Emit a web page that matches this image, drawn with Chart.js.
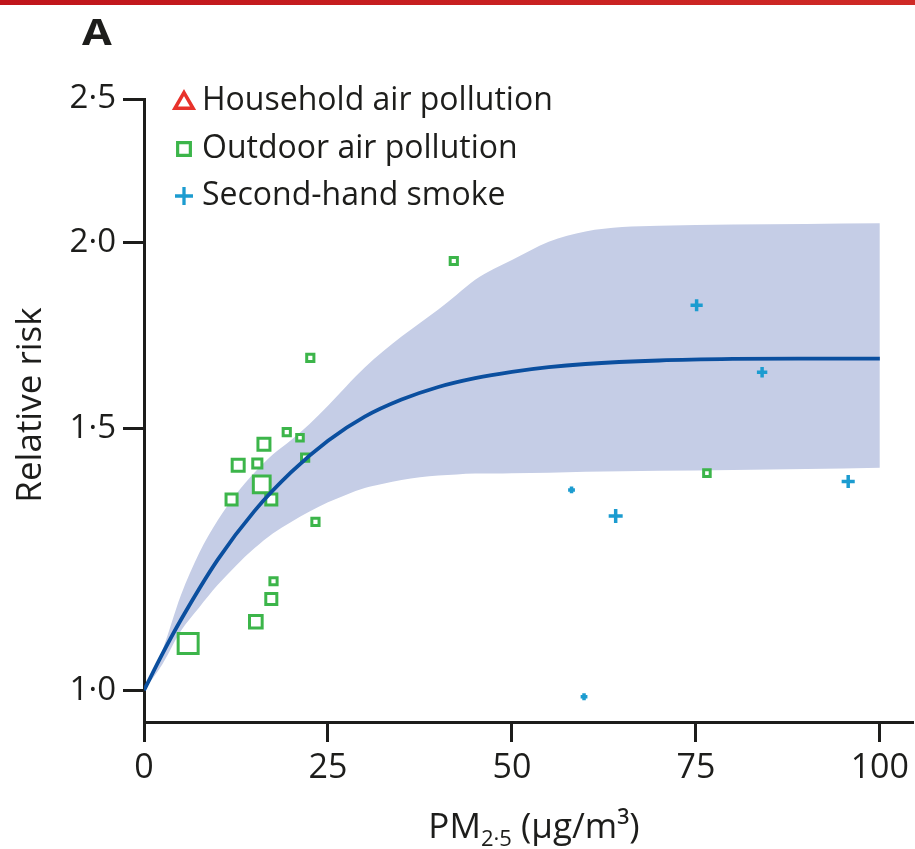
<!DOCTYPE html>
<html>
<head>
<meta charset="utf-8">
<script src="https://cdn.jsdelivr.net/npm/chart.js@4/dist/chart.umd.min.js"></script>
<style>
  html, body { margin: 0; padding: 0; background: #ffffff; }
  #wrap { position: relative; width: 915px; height: 849px; }
</style>
</head>
<body>
<div id="wrap"><canvas id="chart"></canvas></div>
<script>
// Axis ticks
const xTicks = [0, 25, 50, 75, 100];
const yTicks = [1.0, 1.5, 2.0, 2.5];

// Series names
const seriesNames = ['Household air pollution', 'Outdoor air pollution', 'Second-hand smoke'];

// Integrated exposure-response curve (PM2.5 in µg/m³)
const curvePM = [0, 2.5, 5, 10, 15, 20, 25, 30, 35, 40, 45, 50, 55, 60, 70, 80, 90, 100];
const curveRR = [1.000, 1.058, 1.115, 1.224, 1.320, 1.402, 1.472, 1.528, 1.569, 1.600, 1.622, 1.638, 1.650, 1.658, 1.667, 1.671, 1.672, 1.672];

// Uncertainty band around the curve
const bandPM    = [0, 2.5, 5, 7.5, 10, 12.5, 15, 17.5, 20, 22.5, 25, 27.5, 30, 32.5, 35, 37.5, 40, 42.5, 45, 47.5, 50, 55, 60, 65, 70, 80, 90, 100];
const bandUpper = [1.000, 1.064, 1.158, 1.237, 1.301, 1.355, 1.401, 1.441, 1.474, 1.511, 1.554, 1.602, 1.649, 1.691, 1.730, 1.767, 1.804, 1.846, 1.889, 1.921, 1.948, 2.004, 2.036, 2.050, 2.054, 2.058, 2.060, 2.062];
const bandLower = [1.000, 1.041, 1.096, 1.137, 1.177, 1.213, 1.246, 1.275, 1.298, 1.319, 1.338, 1.354, 1.368, 1.377, 1.385, 1.391, 1.395, 1.397, 1.399, 1.399, 1.400, 1.401, 1.403, 1.404, 1.405, 1.407, 1.409, 1.412];

// Study estimates
const householdPM = [];
const householdRR = [];

const outdoorPM     = [6.0, 15.2, 17.3, 17.6, 23.3, 11.9, 17.3, 16.0, 12.8, 15.4, 16.3, 19.4, 21.2, 21.9, 22.6, 42.1, 76.5];
const outdoorRR     = [1.075, 1.112, 1.152, 1.184, 1.298, 1.344, 1.344, 1.376, 1.417, 1.421, 1.464, 1.492, 1.479, 1.434, 1.674, 1.945, 1.400];
const outdoorWeight = [5, 2.7, 2.2, 1, 1, 2.2, 2.2, 4, 2.5, 1.6, 2.5, 1, 0.8, 1, 1, 1, 0.8];

const smokePM     = [75.1, 84.0, 58.1, 64.1, 95.7, 59.8];
const smokeRR     = [1.816, 1.637, 1.364, 1.310, 1.382, 0.990];
const smokeWeight = [4, 3, 1, 5, 4.5, 1];

const FONT = "'Open Sans', 'Noto Sans', sans-serif";
const INK = '#1d1d1b';
const RED = '#e8322b';
const GREEN = '#3cb54a';
const CYAN = '#1c9cd0';
const NAVY = '#0b4f9f';
const BAND = '#c5cde6';

const pts = (xs, ys) => xs.map((x, i) => ({ x: x, y: ys[i] }));
const rectRadius = w => (4 + 3.2 * w) / Math.SQRT2;
const crossRadius = w => 2.5 + 0.9 * w;
const fmt = v => v.toFixed(1).replace('.', '\u00B7');

// Panel letter, axis titles and legend drawn over the chart
const panelDecor = {
  id: 'panelDecor',
  afterDraw(chart) {
    const ctx = chart.ctx;
    ctx.save();

    // journal rule along the top edge
    const g = ctx.createLinearGradient(0, 0, chart.width, 0);
    g.addColorStop(0, '#c0151b');
    g.addColorStop(1, '#cf2a26');
    ctx.fillStyle = g;
    ctx.fillRect(0, 0, chart.width, 5);

    ctx.fillStyle = INK;
    ctx.textBaseline = 'alphabetic';

    // panel letter
    ctx.save();
    ctx.font = 'bold 36px ' + FONT;
    ctx.textAlign = 'left';
    ctx.translate(82, 45);
    ctx.scale(1.2, 1);
    ctx.fillText('A', 0, 0);
    ctx.restore();

    // y title
    ctx.save();
    ctx.translate(41, 405);
    ctx.rotate(-Math.PI / 2);
    ctx.textAlign = 'center';
    ctx.font = '35px ' + FONT;
    ctx.fillText('Relative risk', 0, 0);
    ctx.restore();

    // x title with subscript
    const main = '35px ' + FONT, sub = '22px ' + FONT;
    ctx.font = main; const wPM = ctx.measureText('PM').width;
    ctx.font = sub;  const wSub = ctx.measureText('2\u00B75').width;
    ctx.font = main; const wUnit = ctx.measureText(' (\u03BCg/m\u00B3)').width;
    let tx = 534 - (wPM + wSub + wUnit) / 2;
    ctx.textAlign = 'left';
    ctx.font = main; ctx.fillText('PM', tx, 838); tx += wPM;
    ctx.font = sub;  ctx.fillText('2\u00B75', tx, 846); tx += wSub;
    ctx.font = main; ctx.fillText(' (\u03BCg/m\u00B3)', tx, 838);

    // legend
    const rows = [101, 149, 196];
    chart.data.datasets.filter(d => d.inLegend).forEach((d, i) => {
      const y = rows[i];
      ctx.lineWidth = d.legendBorder;
      ctx.strokeStyle = d.borderColor;
      ctx.fillStyle = d.pointStyle === 'cross' ? d.borderColor : '#ffffff';
      const opts = { pointStyle: d.pointStyle, radius: d.legendRadius, borderWidth: d.legendBorder, rotation: 0 };
      Chart.helpers.drawPoint(ctx, opts, 184, y + (d.pointStyle === 'triangle' ? 2 : 0));
      ctx.fillStyle = INK;
      ctx.font = '32px ' + FONT;
      ctx.textBaseline = 'middle';
      ctx.textAlign = 'left';
      ctx.fillText(d.label, 202, y);
    });

    ctx.restore();
  }
};

const ctxEl = document.getElementById('chart');
new Chart(ctxEl, {
  type: 'scatter',
  data: {
    datasets: [
      {
        label: seriesNames[0], inLegend: true,
        data: pts(householdPM, householdRR),
        pointStyle: 'triangle', borderColor: RED, backgroundColor: '#ffffff',
        borderWidth: 3.5, pointRadius: 6, legendRadius: 10.5, legendBorder: 3.5, order: 0
      },
      {
        label: seriesNames[1], inLegend: true,
        data: pts(outdoorPM, outdoorRR),
        pointStyle: 'rect', borderColor: GREEN, backgroundColor: '#ffffff',
        borderWidth: 3, pointRadius: outdoorWeight.map(rectRadius),
        pointHoverRadius: outdoorWeight.map(rectRadius),
        legendRadius: 9, legendBorder: 3.2, order: 2
      },
      {
        label: seriesNames[2], inLegend: true,
        data: pts(smokePM, smokeRR),
        pointStyle: 'cross', borderColor: CYAN, backgroundColor: CYAN,
        borderWidth: 3.5, pointRadius: smokeWeight.map(crossRadius),
        pointHoverRadius: smokeWeight.map(crossRadius),
        legendRadius: 9, legendBorder: 3.3, order: 0
      },
      {
        label: 'Relative risk', type: 'line',
        data: pts(curvePM, curveRR),
        borderColor: NAVY, borderWidth: 3.8, pointRadius: 0, showLine: true,
        cubicInterpolationMode: 'monotone', fill: false, order: 1
      },
      {
        label: 'Upper bound', type: 'line',
        data: pts(bandPM, bandUpper),
        borderWidth: 0, borderColor: 'rgba(0,0,0,0)', backgroundColor: BAND,
        pointRadius: 0, showLine: true, cubicInterpolationMode: 'monotone',
        fill: '+1', order: 3
      },
      {
        label: 'Lower bound', type: 'line',
        data: pts(bandPM, bandLower),
        borderWidth: 0, borderColor: 'rgba(0,0,0,0)', backgroundColor: BAND,
        pointRadius: 0, showLine: true, cubicInterpolationMode: 'monotone',
        fill: false, order: 3
      }
    ]
  },
  options: {
    responsive: true,
    maintainAspectRatio: false,
    animation: false,
    events: [],
    layout: { autoPadding: false, padding: { top: 99, right: 0, bottom: 0, left: 0 } },
    plugins: {
      legend: { display: false },
      tooltip: { enabled: false },
      title: { display: false }
    },
    scales: {
      x: {
        type: 'linear', position: 'bottom', min: 0, max: 104.6,
        afterBuildTicks: s => { s.ticks = xTicks.map(v => ({ value: v })); },
        afterFit: s => { s.height = 127; },
        grid: { drawOnChartArea: false, drawTicks: true, tickLength: 20, tickWidth: 3, tickColor: INK },
        border: { display: true, width: 3, color: INK },
        ticks: {
          font: { family: FONT, size: 34 }, color: INK, padding: 6,
          maxRotation: 0, autoSkip: false, callback: v => String(v)
        }
      },
      y: {
        type: 'logarithmic', position: 'left', min: 0.952, max: 2.5,
        afterBuildTicks: s => { s.ticks = yTicks.map(v => ({ value: v })); },
        afterFit: s => { s.width = 144; },
        grid: { drawOnChartArea: false, drawTicks: true, tickLength: 21, tickWidth: 3, tickColor: INK },
        border: { display: true, width: 3, color: INK },
        ticks: {
          font: { family: FONT, size: 33 }, color: INK, padding: 7,
          autoSkip: false, callback: v => fmt(v)
        }
      }
    }
  },
  plugins: [panelDecor]
});
</script>
</body>
</html>
